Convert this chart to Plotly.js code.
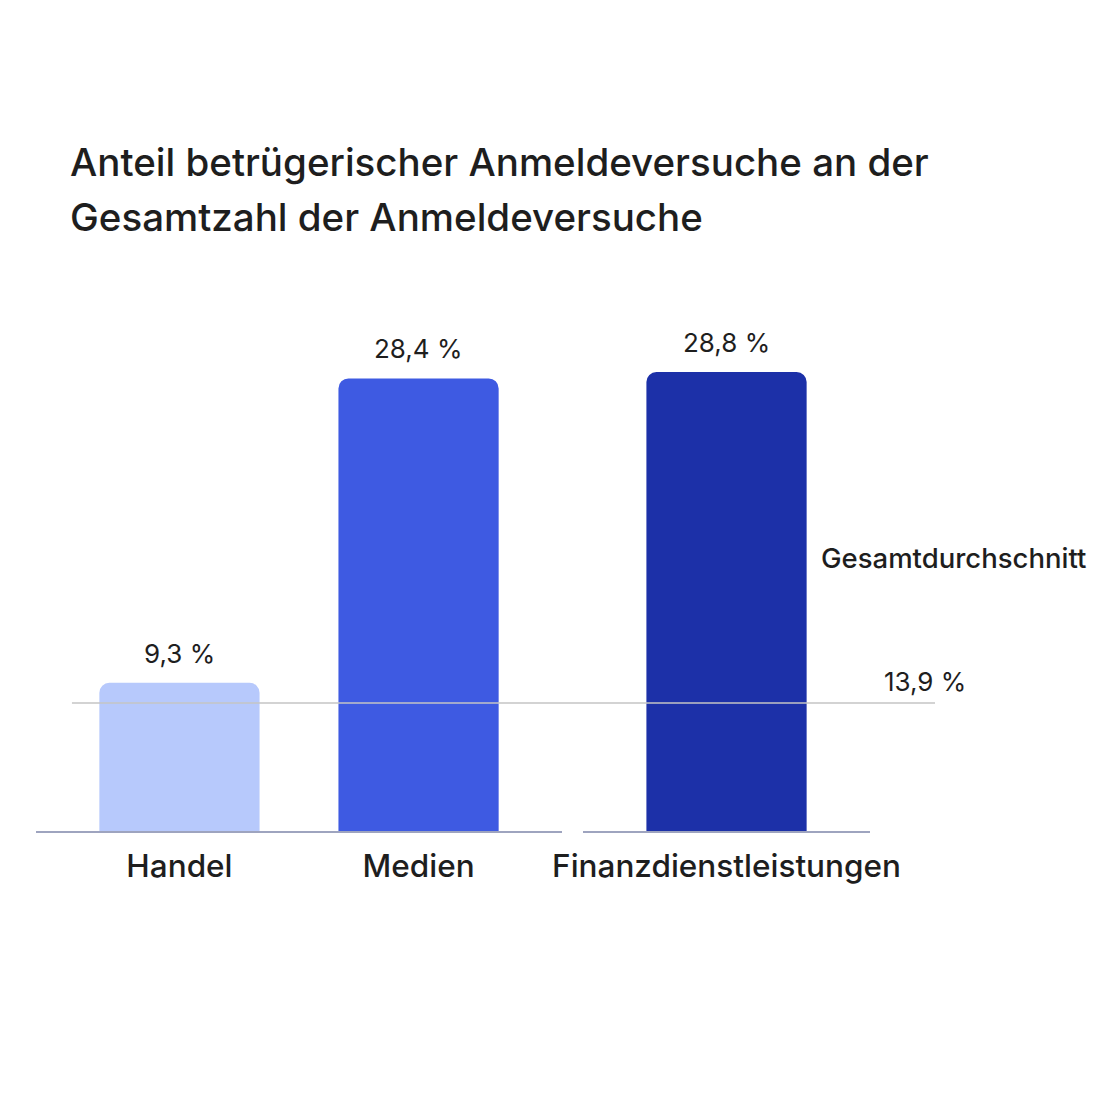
<!DOCTYPE html>
<html>
<head>
<meta charset="utf-8">
<script src="https://cdn.plot.ly/plotly-3.0.1.min.js"></script>
<style>
html,body{margin:0;padding:0;background:#fff;}
#chart{width:1120px;height:1120px;}
</style>
</head>
<body>
<div id="chart"></div>
<script>
// ---- data ----
const groupA = ["Handel", "Medien"];
const valuesA = [9.3, 28.4];
const groupB = ["Finanzdienstleistungen"];
const valuesB = [28.8];
const valueLabelsA = ["9,3 %", "28,4 %"];
const valueLabelsB = ["28,8 %"];
const averageValue = 13.9;
const averageLabel = "13,9 %";
const averageName = "Gesamtdurchschnitt";
const titleLines = ["Anteil betrügerischer Anmeldeversuche an der", "Gesamtzahl der Anmeldeversuche"];

// ---- styles ----
const FONT = "Inter, 'Liberation Sans', Arial, sans-serif";
const colorsA = ["#b7c9fc", "#3e5ae2"];
const colorsB = ["#1c30a8"];
const textColor = "#1e1e1e";

const traces = [
  {type: "bar", x: groupA, y: valuesA, xaxis: "x", yaxis: "y",
   width: 0.67, marker: {color: colorsA, cornerradius: 10}, hoverinfo: "skip"},
  {type: "bar", x: groupB, y: valuesB, xaxis: "x2", yaxis: "y2",
   width: 0.67, marker: {color: colorsB, cornerradius: 10}, hoverinfo: "skip"},
  {type: "scatter", mode: "markers", x: [groupA[0]], y: [averageValue], xaxis: "x", yaxis: "y3",
   marker: {opacity: 0}, hoverinfo: "skip", showlegend: false}
];

const annotations = [];
groupA.forEach((c, i) => annotations.push({
  xref: "x", yref: "y", x: c, y: valuesA[i], text: valueLabelsA[i],
  showarrow: false, yanchor: "bottom", yshift: 12, font: {family: FONT, size: 26, color: textColor}
}));
groupB.forEach((c, i) => annotations.push({
  xref: "x2", yref: "y2", x: c, y: valuesB[i], text: valueLabelsB[i],
  showarrow: false, yanchor: "bottom", yshift: 12, font: {family: FONT, size: 26, color: textColor}
}));
annotations.push({
  xref: "paper", yref: "y3", x: 0.989, y: averageValue, text: averageLabel,
  showarrow: false, xanchor: "center", yanchor: "bottom", yshift: 4,
  font: {family: FONT, size: 26, color: textColor}
});
annotations.push({
  xref: "paper", yref: "paper", x: 0.871, y: 0.535, text: averageName,
  showarrow: false, xanchor: "left", yanchor: "middle",
  font: {family: FONT, size: 27.5, color: textColor, weight: 500}
});
titleLines.forEach((t, i) => annotations.push({
  xref: "paper", yref: "paper", x: 0.036, y: i === 0 ? 1.312 : 1.204, text: t,
  showarrow: false, xanchor: "left", yanchor: "middle",
  font: {family: FONT, size: 38.5, color: textColor, weight: 500}
}));

const axisX = {
  showgrid: false, zeroline: false, showline: true, linecolor: "#9ea4bf", linewidth: 2,
  ticks: "", tickfont: {family: FONT, size: 31.5, color: textColor, weight: 500}, ticklabelstandoff: 6,
  fixedrange: true
};
const axisY = {visible: false, showgrid: false, zeroline: false, range: [0, 32], fixedrange: true};

const layout = {
  width: 1120, height: 1120,
  paper_bgcolor: "#ffffff", plot_bgcolor: "rgba(0,0,0,0)",
  margin: {l: 36, r: 185, t: 321, b: 289},
  showlegend: false,
  font: {family: FONT, color: textColor},
  xaxis: Object.assign({}, axisX, {domain: [0, 0.5851], range: [-0.6, 1.6], anchor: "y"}),
  xaxis2: Object.assign({}, axisX, {domain: [0.6085, 0.9277], range: [-0.6, 0.6], anchor: "y2"}),
  yaxis: Object.assign({}, axisY, {anchor: "x"}),
  yaxis2: Object.assign({}, axisY, {anchor: "x2"}),
  yaxis3: {visible: false, overlaying: "y", range: [0, 55.4], fixedrange: true, showgrid: false, zeroline: false},
  shapes: [{
    type: "line", xref: "paper", yref: "y3", x0: 0.04, x1: 1.0, y0: averageValue, y1: averageValue,
    line: {color: "#c4c4c4", width: 1.5}, layer: "above"
  }],
  annotations: annotations
};

Plotly.newPlot("chart", traces, layout, {displayModeBar: false, staticPlot: true});
</script>
</body>
</html>
